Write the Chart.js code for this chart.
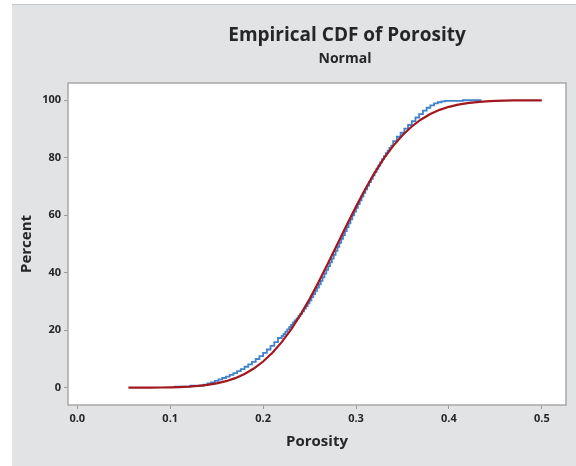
<!DOCTYPE html>
<html>
<head>
<meta charset="utf-8">
<script src="https://cdn.jsdelivr.net/npm/chart.js@4"></script>
<style>
  html, body { margin: 0; padding: 0; background: #ffffff; }
  #wrap { width: 576px; height: 466px; }
</style>
</head>
<body>
<div id="wrap"><canvas id="cdfChart" width="576" height="466"></canvas></div>
<script>
// Curva ajustada (Normal) – porosidade x percentual acumulado
const normalX = [0.055, 0.07, 0.08, 0.09, 0.10, 0.11, 0.12, 0.13, 0.14, 0.15, 0.16, 0.17, 0.18, 0.19,
  0.20, 0.21, 0.22, 0.23, 0.24, 0.25, 0.26, 0.27, 0.28, 0.29, 0.30, 0.31, 0.32, 0.33, 0.34, 0.35,
  0.36, 0.37, 0.38, 0.39, 0.40, 0.41, 0.42, 0.43, 0.44, 0.45, 0.46, 0.47, 0.48, 0.49, 0.50];
const normalPct = [0.01, 0.02, 0.04, 0.08, 0.13, 0.23, 0.38, 0.62, 0.98, 1.51, 2.28, 3.34, 4.78, 6.68,
  9.12, 12.16, 15.87, 20.23, 25.25, 30.85, 36.94, 43.38, 50.0, 56.62, 63.06, 69.15, 74.75, 79.77, 84.13, 87.84,
  90.88, 93.32, 95.22, 96.66, 97.72, 98.49, 99.02, 99.38, 99.62, 99.77, 99.87, 99.93, 99.96, 99.98, 99.99];

// Distribuição empírica (degraus)
const empX = [0.105, 0.122, 0.136, 0.140, 0.144, 0.148, 0.152, 0.156, 0.160, 0.164, 0.168, 0.172,
  0.176, 0.180, 0.184, 0.188, 0.192, 0.196, 0.200, 0.204, 0.208, 0.212, 0.216, 0.220,
  0.222, 0.224, 0.226, 0.228, 0.230, 0.232, 0.234, 0.236, 0.238, 0.240, 0.242, 0.244, 0.246, 0.248,
  0.250, 0.252, 0.254, 0.256, 0.258, 0.260, 0.262, 0.264, 0.266, 0.268, 0.270, 0.272, 0.274, 0.276,
  0.278, 0.280, 0.282, 0.284, 0.286, 0.288, 0.290, 0.292, 0.294, 0.296, 0.298, 0.300, 0.302, 0.304,
  0.306, 0.308, 0.310, 0.312, 0.314, 0.316, 0.318, 0.320, 0.322, 0.324, 0.326, 0.328, 0.330, 0.332,
  0.334, 0.336, 0.338, 0.340, 0.344, 0.348, 0.352, 0.356, 0.360, 0.364, 0.368, 0.372, 0.376, 0.380,
  0.384, 0.388, 0.392, 0.396, 0.415, 0.435];
const empPct = [0.2, 0.4, 0.7, 1.1, 1.5, 1.9, 2.4, 2.9, 3.4, 3.9, 4.5, 5.1,
  5.8, 6.5, 7.3, 8.1, 9.0, 10.0, 11.0, 12.1, 13.3, 14.6, 15.9, 17.3,
  18.0, 18.7, 19.5, 20.3, 21.1, 21.9, 22.7, 23.4, 24.1, 24.9, 25.7, 26.6, 27.5, 28.4,
  29.4, 30.4, 31.5, 32.6, 33.7, 34.8, 36.0, 37.2, 38.4, 39.7, 41.0, 42.3, 43.6, 44.9,
  46.2, 47.6, 49.0, 50.4, 51.8, 53.1, 54.5, 55.9, 57.2, 58.6, 60.0, 61.3, 62.6, 63.9,
  65.2, 66.5, 67.8, 69.0, 70.2, 71.5, 72.7, 73.9, 75.0, 76.2, 77.3, 78.4, 79.5, 80.6,
  81.6, 82.5, 83.4, 84.2, 85.8, 87.3, 88.7, 90.1, 91.4, 92.7, 94.0, 95.2, 96.4, 97.4,
  98.2, 98.9, 99.3, 99.6, 99.8, 100];

// Marcas dos eixos
const xTicks = [0.0, 0.1, 0.2, 0.3, 0.4, 0.5];
const yTicks = [0, 20, 40, 60, 80, 100];

const fonte = '"Open Sans", "Noto Sans", sans-serif';
const corTexto = '#262626';
const corEixo = '#9a9a9a';

// Fundo cinza, área do gráfico branca e títulos
const painel = {
  id: 'painel',
  beforeDraw(chart) {
    const ctx = chart.ctx;
    const a = chart.chartArea;
    ctx.save();
    ctx.fillStyle = '#ffffff';
    ctx.fillRect(0, 0, chart.width, chart.height);
    ctx.fillStyle = '#e2e3e5';
    ctx.fillRect(12, 4, chart.width - 12, chart.height - 4);
    ctx.strokeStyle = '#c6c7c9';
    ctx.lineWidth = 1;
    ctx.beginPath();
    ctx.moveTo(12, 4.5);
    ctx.lineTo(chart.width, 4.5);
    ctx.stroke();
    ctx.fillStyle = '#ffffff';
    ctx.fillRect(a.left, a.top, a.right - a.left, a.bottom - a.top);

    ctx.fillStyle = corTexto;
    ctx.textAlign = 'center';
    ctx.textBaseline = 'middle';
    ctx.font = 'bold 19px ' + fonte;
    ctx.fillText('Empirical CDF of Porosity', 347, 36);
    ctx.font = 'bold 14px ' + fonte;
    ctx.fillText('Normal', 345, 59);
    ctx.restore();
  },
  afterDraw(chart) {
    const ctx = chart.ctx;
    const a = chart.chartArea;
    ctx.save();
    ctx.strokeStyle = '#a8a8a8';
    ctx.lineWidth = 1.5;
    ctx.strokeRect(a.left, a.top, a.right - a.left, a.bottom - a.top);
    ctx.restore();
  }
};

const ctx = document.getElementById('cdfChart').getContext('2d');

new Chart(ctx, {
  type: 'line',
  data: {
    datasets: [{
      label: 'Normal',
      data: normalX.map((x, i) => ({ x: x, y: normalPct[i] })),
      borderColor: '#a3171f',
      borderWidth: 2.2,
      pointRadius: 0,
      fill: false
    }, {
      label: 'Porosity',
      data: empX.map((x, i) => ({ x: x, y: empPct[i] })),
      borderColor: '#3f83cc',
      borderWidth: 1.8,
      pointRadius: 0,
      stepped: 'after',
      fill: false
    }]
  },
  options: {
    responsive: false,
    animation: false,
    layout: { padding: { top: 83, right: 10, left: 0, bottom: 0 } },
    plugins: {
      legend: { display: false },
      tooltip: { enabled: false }
    },
    scales: {
      x: {
        type: 'linear',
        min: -0.01,
        max: 0.526,
        afterBuildTicks: s => { s.ticks = xTicks.map(v => ({ value: v })); },
        afterFit: s => { s.height = 61; },
        grid: { drawOnChartArea: false, tickLength: 4, color: corEixo },
        border: { display: false },
        ticks: {
          callback: v => v.toFixed(1),
          font: { family: fonte, size: 11, weight: 'bold' },
          color: corTexto,
          padding: 3,
          maxRotation: 0,
          autoSkip: false
        },
        title: {
          display: true,
          text: 'Porosity',
          font: { family: fonte, size: 15, weight: 'bold' },
          color: corTexto,
          padding: { top: 0, bottom: 15 }
        }
      },
      y: {
        min: -6,
        max: 106,
        afterBuildTicks: s => { s.ticks = yTicks.map(v => ({ value: v })); },
        afterFit: s => { s.width = 68; },
        grid: { drawOnChartArea: false, tickLength: 4, color: corEixo },
        border: { display: false },
        ticks: {
          font: { family: fonte, size: 11, weight: 'bold' },
          color: corTexto,
          padding: 3
        },
        title: {
          display: true,
          text: 'Percent',
          font: { family: fonte, size: 15, weight: 'bold' },
          color: corTexto,
          padding: { top: 18, bottom: 0 }
        }
      }
    }
  },
  plugins: [painel]
});
</script>
</body>
</html>
